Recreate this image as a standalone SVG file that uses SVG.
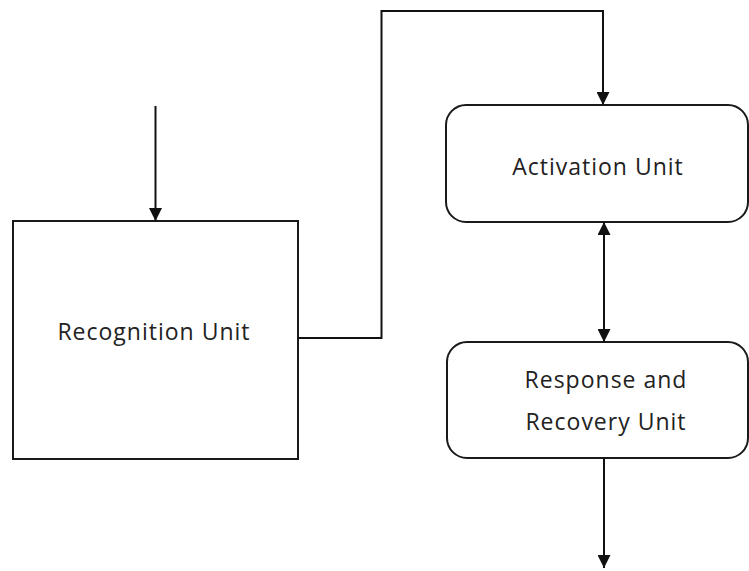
<svg xmlns="http://www.w3.org/2000/svg" width="749" height="571" viewBox="0 0 749 571">
<style>
.box{fill:#fff;stroke:#1a1a1a;stroke-width:2}
.lbl{font-family:"Open Sans","DejaVu Sans",sans-serif;font-size:23px;letter-spacing:1px;fill:#222;text-anchor:middle}
.con{fill:none;stroke:#111;stroke-width:2}
</style>
<defs>
<marker id="arr" viewBox="0 0 14 14" refX="14" refY="7" markerWidth="13" markerHeight="13" markerUnits="userSpaceOnUse" orient="auto-start-reverse">
<path d="M0,0 L14,7 L0,14 z" fill="#111"/>
</marker>
</defs>
<rect width="749" height="571" fill="#fff"/>
<g id="recognition">
<rect class="box" x="13" y="221" width="285" height="238"/>
<text class="lbl" x="154" y="340">Recognition Unit</text>
</g>
<g id="activation">
<rect class="box" x="446" y="105" width="302" height="117" rx="20" ry="20"/>
<text class="lbl" x="598" y="175">Activation Unit</text>
</g>
<g id="response">
<rect class="box" x="447" y="342" width="301" height="116" rx="20" ry="20"/>
<text class="lbl" x="606" y="388">Response and</text>
<text class="lbl" x="606" y="430">Recovery Unit</text>
</g>
<g id="connectors">
<path class="con" d="M155.5,106 V221" marker-end="url(#arr)"/>
<path class="con" d="M298,338 H381.5 V11 H603 V105" marker-end="url(#arr)"/>
<path class="con" d="M604,222 V342" marker-start="url(#arr)" marker-end="url(#arr)"/>
<path class="con" d="M604,458 V568" marker-end="url(#arr)"/>
</g>
</svg>
